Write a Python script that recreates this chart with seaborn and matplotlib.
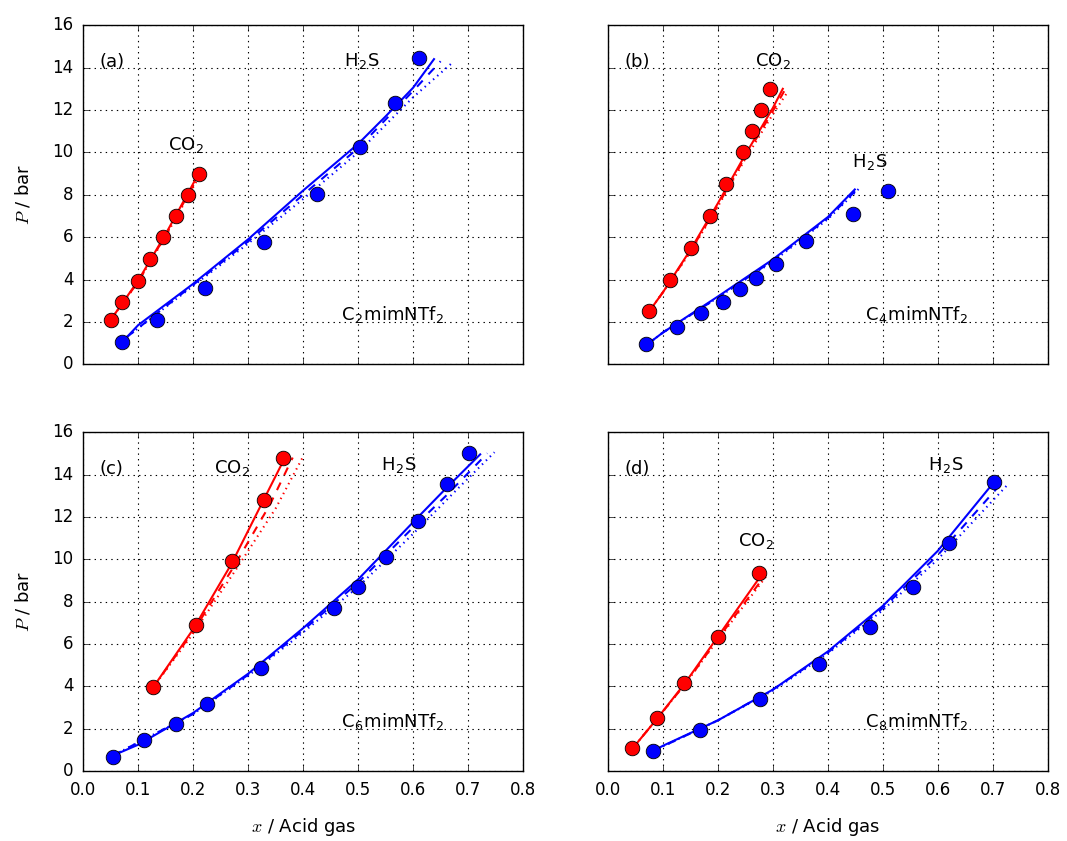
import matplotlib
matplotlib.use("Agg")
import matplotlib.pyplot as plt
import seaborn as sns
import pandas as pd

# ---------------- data ----------------
panel_tags = ["(a)", "(b)", "(c)", "(d)"]
liquid_names = ["C$_\\mathregular{2}$mimNTf$_\\mathregular{2}$",
                "C$_\\mathregular{4}$mimNTf$_\\mathregular{2}$",
                "C$_\\mathregular{6}$mimNTf$_\\mathregular{2}$",
                "C$_\\mathregular{8}$mimNTf$_\\mathregular{2}$"]
x_ticks = [0.0, 0.1, 0.2, 0.3, 0.4, 0.5, 0.6, 0.7, 0.8]
y_ticks = [0, 2, 4, 6, 8, 10, 12, 14, 16]

# panel (a)
a_co2_x = [0.05, 0.07, 0.10, 0.122, 0.145, 0.168, 0.19, 0.21]
a_co2_p = [2.1, 2.95, 3.95, 4.95, 6.0, 7.0, 8.0, 9.0]
a_co2_m1_x = [0.05, 0.10, 0.15, 0.21]
a_co2_m1_p = [2.1, 3.95, 6.15, 9.0]
a_co2_m2_x = [0.05, 0.10, 0.15, 0.212]
a_co2_m2_p = [2.1, 3.9, 6.1, 9.0]
a_co2_m3_x = [0.05, 0.10, 0.15, 0.214]
a_co2_m3_p = [2.1, 3.9, 6.05, 9.0]
a_h2s_x = [0.07, 0.135, 0.221, 0.328, 0.425, 0.504, 0.567, 0.61]
a_h2s_p = [1.05, 2.1, 3.6, 5.75, 8.05, 10.25, 12.35, 14.45]
a_h2s_m1_x = [0.08, 0.1, 0.2, 0.3, 0.4, 0.5, 0.55, 0.6, 0.638]
a_h2s_m1_p = [1.3, 1.85, 3.8, 5.9, 8.2, 10.4, 11.7, 13.05, 14.4]
a_h2s_m2_x = [0.08, 0.2, 0.3, 0.4, 0.5, 0.6, 0.65]
a_h2s_m2_p = [1.3, 3.75, 5.8, 8.0, 10.2, 12.9, 14.3]
a_h2s_m3_x = [0.08, 0.2, 0.3, 0.4, 0.5, 0.6, 0.67]
a_h2s_m3_p = [1.3, 3.7, 5.7, 7.8, 10.0, 12.6, 14.2]

# panel (b)
b_co2_x = [0.075, 0.113, 0.151, 0.185, 0.215, 0.245, 0.262, 0.278, 0.295]
b_co2_p = [2.5, 4.0, 5.5, 7.0, 8.5, 10.0, 11.0, 12.0, 13.0]
b_co2_m1_x = [0.075, 0.1, 0.15, 0.2, 0.25, 0.3, 0.318]
b_co2_m1_p = [2.5, 3.4, 5.4, 7.6, 9.9, 12.1, 13.0]
b_co2_m2_x = [0.075, 0.1, 0.15, 0.2, 0.25, 0.3, 0.323]
b_co2_m2_p = [2.5, 3.4, 5.35, 7.5, 9.8, 11.95, 13.0]
b_co2_m3_x = [0.075, 0.1, 0.15, 0.2, 0.25, 0.3, 0.328]
b_co2_m3_p = [2.5, 3.4, 5.3, 7.45, 9.7, 11.8, 12.9]
b_h2s_x = [0.07, 0.125, 0.17, 0.21, 0.24, 0.27, 0.305, 0.36, 0.445, 0.51]
b_h2s_p = [0.95, 1.75, 2.4, 2.95, 3.55, 4.05, 4.75, 5.8, 7.1, 8.2]
b_h2s_m1_x = [0.072, 0.1, 0.2, 0.3, 0.4, 0.449]
b_h2s_m1_p = [0.95, 1.5, 3.2, 4.95, 6.95, 8.25]
b_h2s_m2_x = [0.072, 0.1, 0.2, 0.3, 0.4, 0.453]
b_h2s_m2_p = [0.95, 1.5, 3.15, 4.9, 6.9, 8.25]
b_h2s_m3_x = [0.072, 0.1, 0.2, 0.3, 0.4, 0.457]
b_h2s_m3_p = [0.95, 1.5, 3.15, 4.85, 6.85, 8.3]

# panel (c)
c_co2_x = [0.127, 0.205, 0.27, 0.328, 0.363]
c_co2_p = [3.95, 6.9, 9.9, 12.8, 14.8]
c_co2_m1_x = [0.127, 0.2, 0.27, 0.33, 0.367]
c_co2_m1_p = [3.95, 6.7, 9.8, 12.9, 14.8]
c_co2_m2_x = [0.127, 0.2, 0.275, 0.34, 0.381]
c_co2_m2_p = [3.95, 6.6, 9.7, 12.6, 14.8]
c_co2_m3_x = [0.127, 0.2, 0.28, 0.35, 0.401]
c_co2_m3_p = [3.95, 6.5, 9.6, 12.4, 14.9]
c_h2s_x = [0.055, 0.11, 0.168, 0.225, 0.323, 0.457, 0.5, 0.551, 0.608, 0.662, 0.701]
c_h2s_p = [0.65, 1.45, 2.25, 3.15, 4.85, 7.7, 8.7, 10.1, 11.8, 13.55, 15.0]
c_h2s_m1_x = [0.055, 0.1, 0.2, 0.3, 0.4, 0.5, 0.6, 0.66, 0.722]
c_h2s_m1_p = [0.75, 1.25, 2.75, 4.6, 6.75, 9.05, 11.75, 13.35, 14.95]
c_h2s_m2_x = [0.055, 0.2, 0.3, 0.4, 0.5, 0.6, 0.66, 0.735]
c_h2s_m2_p = [0.75, 2.7, 4.55, 6.65, 8.9, 11.5, 13.0, 15.0]
c_h2s_m3_x = [0.055, 0.2, 0.3, 0.4, 0.5, 0.6, 0.68, 0.748]
c_h2s_m3_p = [0.75, 2.7, 4.5, 6.55, 8.7, 11.2, 13.3, 15.05]

# panel (d)
d_co2_x = [0.043, 0.09, 0.139, 0.2, 0.275]
d_co2_p = [1.1, 2.5, 4.15, 6.35, 9.35]
d_co2_m1_x = [0.044, 0.09, 0.14, 0.2, 0.283]
d_co2_m1_p = [1.05, 2.5, 4.15, 6.35, 9.4]
d_co2_m2_x = [0.044, 0.09, 0.14, 0.2, 0.286]
d_co2_m2_p = [1.05, 2.5, 4.1, 6.25, 9.25]
d_co2_m3_x = [0.044, 0.09, 0.14, 0.2, 0.288]
d_co2_m3_p = [1.05, 2.5, 4.1, 6.2, 9.2]
d_h2s_x = [0.082, 0.167, 0.276, 0.383, 0.476, 0.555, 0.62, 0.703]
d_h2s_p = [0.95, 1.95, 3.4, 5.05, 6.8, 8.7, 10.75, 13.65]
d_h2s_m1_x = [0.082, 0.1, 0.2, 0.3, 0.4, 0.5, 0.6, 0.704]
d_h2s_m1_p = [0.95, 1.2, 2.4, 3.85, 5.65, 7.8, 10.4, 13.7]
d_h2s_m2_x = [0.082, 0.2, 0.3, 0.4, 0.5, 0.6, 0.716]
d_h2s_m2_p = [0.95, 2.4, 3.85, 5.6, 7.7, 10.2, 13.6]
d_h2s_m3_x = [0.082, 0.2, 0.3, 0.4, 0.5, 0.6, 0.728]
d_h2s_m3_p = [0.95, 2.4, 3.8, 5.55, 7.6, 10.0, 13.55]

# label positions (data coords) for gas names
co2_label_pos = [(0.188, 10.3), (0.30, 14.25), (0.27, 14.25), (0.27, 10.8)]
h2s_label_pos = [(0.507, 14.25), (0.476, 9.5), (0.575, 14.4), (0.615, 14.4)]

panels = {
    "a": dict(co2=(a_co2_x, a_co2_p), h2s=(a_h2s_x, a_h2s_p),
              co2_m=[(a_co2_m1_x, a_co2_m1_p), (a_co2_m2_x, a_co2_m2_p), (a_co2_m3_x, a_co2_m3_p)],
              h2s_m=[(a_h2s_m1_x, a_h2s_m1_p), (a_h2s_m2_x, a_h2s_m2_p), (a_h2s_m3_x, a_h2s_m3_p)]),
    "b": dict(co2=(b_co2_x, b_co2_p), h2s=(b_h2s_x, b_h2s_p),
              co2_m=[(b_co2_m1_x, b_co2_m1_p), (b_co2_m2_x, b_co2_m2_p), (b_co2_m3_x, b_co2_m3_p)],
              h2s_m=[(b_h2s_m1_x, b_h2s_m1_p), (b_h2s_m2_x, b_h2s_m2_p), (b_h2s_m3_x, b_h2s_m3_p)]),
    "c": dict(co2=(c_co2_x, c_co2_p), h2s=(c_h2s_x, c_h2s_p),
              co2_m=[(c_co2_m1_x, c_co2_m1_p), (c_co2_m2_x, c_co2_m2_p), (c_co2_m3_x, c_co2_m3_p)],
              h2s_m=[(c_h2s_m1_x, c_h2s_m1_p), (c_h2s_m2_x, c_h2s_m2_p), (c_h2s_m3_x, c_h2s_m3_p)]),
    "d": dict(co2=(d_co2_x, d_co2_p), h2s=(d_h2s_x, d_h2s_p),
              co2_m=[(d_co2_m1_x, d_co2_m1_p), (d_co2_m2_x, d_co2_m2_p), (d_co2_m3_x, d_co2_m3_p)],
              h2s_m=[(d_h2s_m1_x, d_h2s_m1_p), (d_h2s_m2_x, d_h2s_m2_p), (d_h2s_m3_x, d_h2s_m3_p)]),
}

# ---------------- style ----------------
plt.style.use("classic")
plt.rcParams.update({
    "figure.facecolor": "white",
    "savefig.facecolor": "white",
    "font.family": ["DejaVu Sans"],
    "font.size": 12,
    "mathtext.fontset": "cm",
    "axes.linewidth": 1.0,
    "xtick.major.pad": 7,
    "ytick.major.pad": 7,
})

fig, axes = plt.subplots(2, 2, figsize=(10.67, 8.41), dpi=100, sharex=True, sharey=True)
fig.subplots_adjust(left=0.078, right=0.982, top=0.970, bottom=0.083,
                    wspace=0.193, hspace=0.2)

styles = ["-", "--", ":"]
widths = [1.5, 1.5, 1.5]

for i, (key, ax) in enumerate(zip(["a", "b", "c", "d"], axes.flat)):
    d = panels[key]
    for gas, col in (("co2", "red"), ("h2s", "blue")):
        for (mx, mp), ls, lw in zip(d[gas + "_m"], styles, widths):
            sns.lineplot(x=mx, y=mp, ax=ax, color=col, linestyle=ls, linewidth=lw,
                         sort=False, estimator=None, legend=False)
        ex, ep = d[gas]
        df = pd.DataFrame({"x": ex, "P": ep})
        sns.scatterplot(data=df, x="x", y="P", ax=ax, color=col, s=110,
                        edgecolor="black", linewidth=0.6, zorder=4, legend=False)
    ax.set_xlim(0.0, 0.8)
    ax.set_ylim(0, 16)
    ax.set_xticks(x_ticks)
    ax.set_yticks(y_ticks)
    ax.grid(True, linestyle=":", color="black", linewidth=0.8)
    ax.set_axisbelow(True)
    ax.set_xlabel("")
    ax.set_ylabel("")
    ax.text(0.03, 14.25, panel_tags[i], fontsize=13, va="center", ha="left")
    cx, cy = co2_label_pos[i]
    ax.text(cx, cy, "CO$_\\mathregular{2}$", fontsize=13, va="center", ha="center")
    hx, hy = h2s_label_pos[i]
    ax.text(hx, hy, "H$_\\mathregular{2}$S", fontsize=13, va="center", ha="center")
    ax.text(0.562, 2.3, liquid_names[i], fontsize=13, va="center", ha="center")

for ax in axes[:, 0]:
    ax.set_ylabel("$P$ / bar", fontsize=13, labelpad=14)
for ax in axes[1, :]:
    ax.set_xlabel("$x$ / Acid gas", fontsize=13, labelpad=12)
    ax.set_xticklabels(["0.0", "0.1", "0.2", "0.3", "0.4", "0.5", "0.6", "0.7", "0.8"])
for ax in axes[:, 0]:
    ax.set_yticklabels([str(v) for v in y_ticks])

fig.savefig("out.png", dpi=100)
